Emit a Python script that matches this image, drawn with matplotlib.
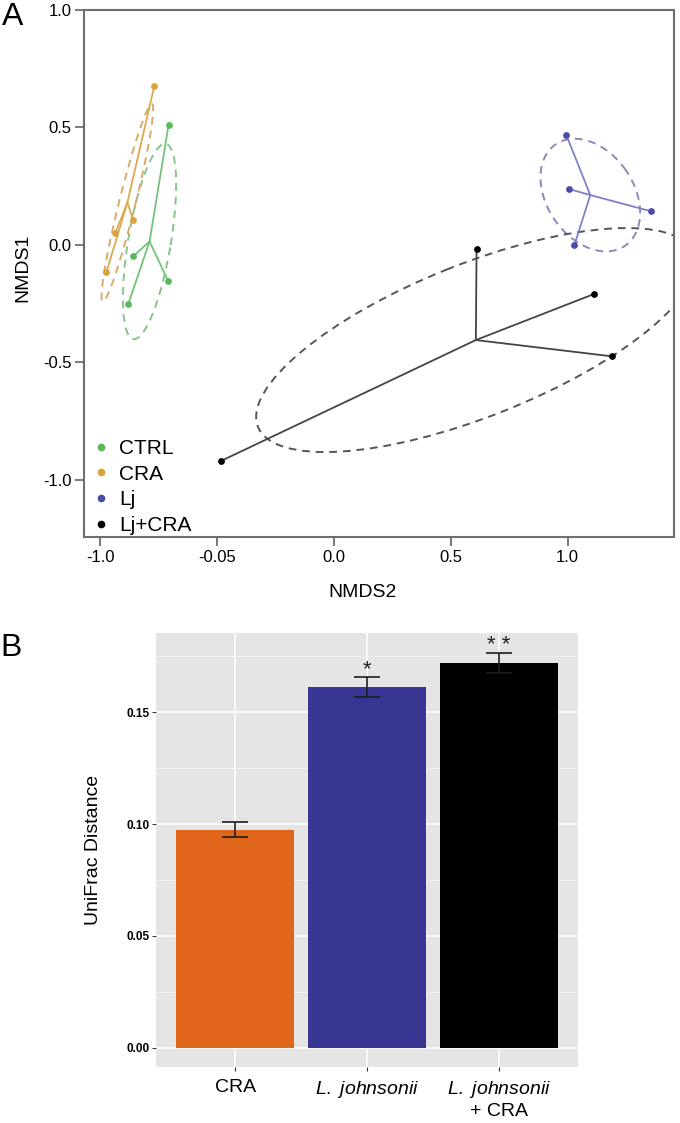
import numpy as np
import matplotlib
matplotlib.use("Agg")
import matplotlib.pyplot as plt
from matplotlib.patches import Ellipse
from matplotlib.lines import Line2D

plt.rcParams['font.family'] = ['Liberation Sans', 'DejaVu Sans']
plt.rcParams['mathtext.fontset'] = 'custom'
plt.rcParams['mathtext.it'] = 'Liberation Sans:italic'
plt.rcParams['mathtext.rm'] = 'Liberation Sans'

# ---- panel A data (NMDS ordination) ----
groups = ['CTRL', 'CRA', 'Lj', 'Lj+CRA']
ctrl_x = [-0.708, -0.860, -0.710, -0.880]
ctrl_y = [0.511, -0.049, -0.153, -0.250]
cra_x = [-0.769, -0.859, -0.936, -0.974]
cra_y = [0.677, 0.106, 0.051, -0.115]
lj_x = [0.994, 1.006, 1.358, 1.029]
lj_y = [0.468, 0.238, 0.143, 0.000]
ljcra_x = [0.610, 1.112, 1.189, -0.483]
ljcra_y = [-0.017, -0.209, -0.474, -0.919]
nmds_xticks = [-1.0, -0.5, 0.0, 0.5, 1.0]
nmds_xticklabels = ['-1.0', '-0.05', '0.0', '0.5', '1.0']
nmds_yticks = [-1.0, -0.5, 0.0, 0.5, 1.0]
ellipse_scale = 1.22

# ---- panel B data ----
bar_labels = ['CRA', r'$\mathit{L.\ johnsonii}$', r'$\mathit{L.\ johnsonii}$' + '\n+ CRA']
unifrac = [0.0975, 0.161, 0.172]
unifrac_se = [0.0034, 0.0045, 0.0045]
signif = ['', '*', '* *']

pt_colors = ['#5cb85c', '#d9a33f', '#4b4ba8', '#000000']
line_colors = ['#74c478', '#dcaa50', '#8080c8', '#444444']
ell_colors = ['#86c48a', '#d8ab66', '#8a8ab8', '#555555']
bar_colors = ['#e0661c', '#383692', '#000000']

fig = plt.figure(figsize=(6.8, 11.23), dpi=100)

# ================= A =================
axA = fig.add_axes([84/680, 1-537/1123, 590/680, 527/1123])
xs = [ctrl_x, cra_x, lj_x, ljcra_x]
ys = [ctrl_y, cra_y, lj_y, ljcra_y]
for gx, gy, pc, lc, ec in zip(xs, ys, pt_colors, line_colors, ell_colors):
    gx = np.array(gx); gy = np.array(gy)
    cx, cy = gx.mean(), gy.mean()
    # spider to centroid
    for px, py in zip(gx, gy):
        axA.plot([cx, px], [cy, py], color=lc, lw=1.3, zorder=2)
    # dispersion ellipse
    vals, vecs = np.linalg.eigh(np.cov(gx, gy))
    ang = np.degrees(np.arctan2(vecs[1, 1], vecs[0, 1]))
    e = Ellipse((cx, cy), 2*ellipse_scale*np.sqrt(vals[1]), 2*ellipse_scale*np.sqrt(vals[0]),
                angle=ang, fill=False, edgecolor=ec, lw=1.4, ls=(0, (4, 3)), zorder=1)
    axA.add_patch(e)
    axA.scatter(gx, gy, s=24, color=pc, zorder=3, linewidths=0)

axA.set_xlim(-1.07, 1.455)
axA.set_ylim(-1.243, 1.0)
axA.set_xticks(nmds_xticks)
axA.set_xticklabels(nmds_xticklabels)
axA.set_yticks(nmds_yticks)
axA.set_yticklabels(['%.1f' % v for v in nmds_yticks])
for s in axA.spines.values():
    s.set_color('#6e6e6e')
    s.set_linewidth(1.5)
axA.tick_params(length=6.5, width=1.3, color='#6e6e6e', labelsize=12, pad=2.5)
axA.set_xlabel('NMDS2', fontsize=14)
axA.set_ylabel('NMDS1', fontsize=14)
axA.xaxis.set_label_coords((363-84)/590, -0.09)
axA.yaxis.set_label_coords(-0.09, 0.51)

handles = [Line2D([], [], marker='o', ls='', color=c, markersize=4.5) for c in pt_colors]
axA.legend(handles, groups, loc='lower left', bbox_to_anchor=(0.0, -0.012), frameon=False,
           fontsize=15, handlelength=0.8, handletextpad=0.5, labelspacing=0.32, borderaxespad=0.0)

fig.text(2/680, 1-2/1123, 'A', fontsize=23, ha='left', va='top')

# ================= B =================
axB = fig.add_axes([156/680, 1-1067/1123, 422/680, 434/1123])
axB.set_facecolor('#e5e5e5')
xpos = np.arange(len(unifrac))
axB.bar(xpos, unifrac, width=0.9, color=bar_colors, zorder=2,
        yerr=unifrac_se, capsize=9.5,
        error_kw=dict(elinewidth=1.2, ecolor='#1e1e1e', capthick=1.2, zorder=3))
for i, s in enumerate(signif):
    if s:
        axB.annotate(s, (xpos[i], unifrac[i] + unifrac_se[i]), xytext=(0, 1.5),
                     textcoords='offset points', ha='center', va='baseline',
                     fontsize=16, color='#222222')
axB.set_xlim(-0.6, 2.6)
axB.set_ylim(-0.0085, 0.1853)
axB.set_yticks([0.0, 0.05, 0.10, 0.15])
axB.set_yticklabels(['0.00', '0.05', '0.10', '0.15'])
axB.set_yticks([0.025, 0.075, 0.125, 0.175], minor=True)
axB.set_xticks(xpos)
axB.set_xticklabels(bar_labels, fontsize=14)
axB.grid(which='major', color='white', lw=1.1)
axB.grid(which='minor', axis='y', color='#f2f2f2', lw=0.6)
axB.set_axisbelow(True)
for s in axB.spines.values():
    s.set_visible(False)
axB.tick_params(axis='y', which='major', length=3, width=0.8, color='#333333',
                labelsize=8.5, pad=1.5)
for t in axB.get_yticklabels():
    t.set_fontweight('bold')
axB.tick_params(axis='y', which='minor', length=0)
axB.tick_params(axis='x', length=3, width=0.8, color='#333333', pad=6)
axB.set_ylabel('UniFrac Distance', fontsize=14)
axB.yaxis.set_label_coords(-0.128, 0.5)

fig.text(0/680, 1-633/1123, 'B', fontsize=23, ha='left', va='top')

fig.savefig('out.png', dpi=100)
